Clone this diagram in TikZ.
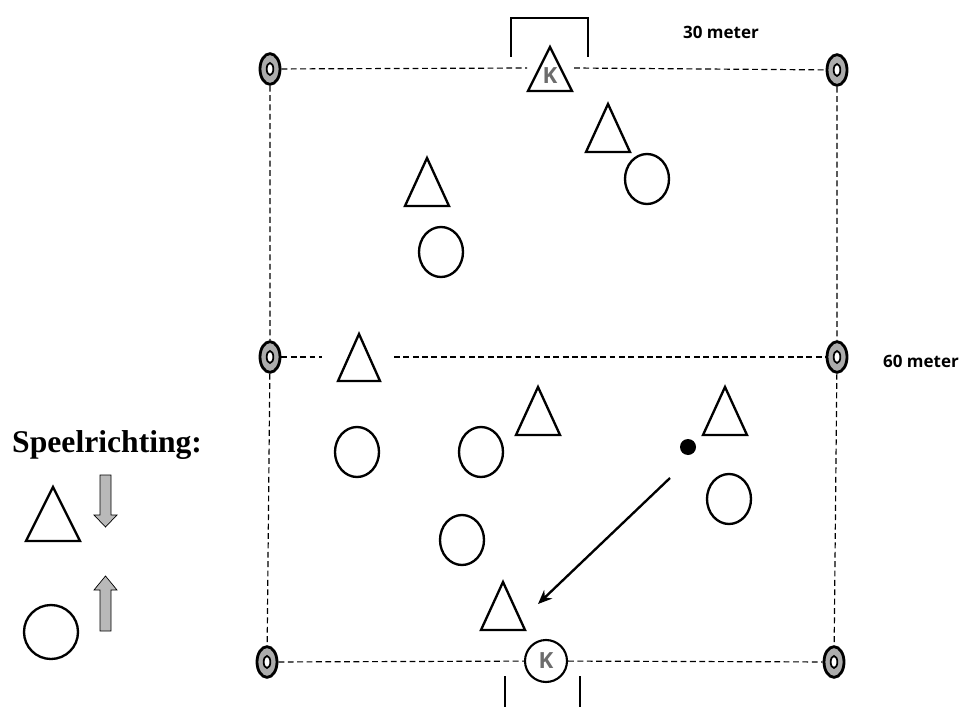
\documentclass[tikz,border=0pt]{standalone}
\usepackage{fontspec}
\usetikzlibrary{shapes.geometric,arrows.meta}
\newfontfamily\headfont{Liberation Serif}
\newfontfamily\labelfont{Open Sans}

\tikzset{
	boundary/.style={dash pattern=on 5pt off 3pt, line width=1pt},
	post/.style={ellipse, draw, line width=2.4pt, fill=gray!65, inner sep=0pt,
		minimum width=0.6cm, minimum height=0.92cm,
		path picture={\draw[fill=white, line width=1.5pt]
			(path picture bounding box.center) ellipse (0.1cm and 0.18cm);}},
	player/.style={line width=2pt, fill=white, line join=miter},
	goal/.style={line width=1.8pt},
	keeper/.style={font=\labelfont\bfseries\fontsize{19}{21}\selectfont, text=gray!85!black},
	meterlabel/.style={font=\labelfont\bfseries\fontsize{14.5}{16}\selectfont},
	direction/.style={fill=gray!55, draw, line width=0.6pt},
}

\begin{document}
\begin{tikzpicture}[x=0.03cm, y=-0.03cm]

% canvas %{{{2

	\useasboundingbox (0,0) rectangle (962,707);

% posts %{{{2

	\node[post] (pTL) at (270,69) {};
	\node[post] (pTR) at (837,70) {};
	\node[post] (pML) at (270,357) {};
	\node[post] (pMR) at (837,357) {};
	\node[post] (pBL) at (267,662) {};
	\node[post] (pBR) at (834,662) {};

% goals %{{{2

	\draw[goal] (511,57) -- (511,18) -- (588,18) -- (588,57);
	\draw[goal] (505,676) -- (505,707);
	\draw[goal] (580,676) -- (580,707);

% keepers %{{{2

	\coordinate (Kt) at (550,47);
	\draw[player] (Kt) -- ++(22,44) -- ++(-44,0) -- cycle;
	\node[keeper] (kTop) at (550,76) {K};

	\node[keeper, circle, draw=black, line width=1.8pt, fill=white,
		minimum size=1.26cm, inner sep=0pt] (kBot) at (546,661) {K};

% field lines %{{{2

	\coordinate (gapA) at (527,68);
	\coordinate (gapB) at (574,68);
	\coordinate (gapC) at (322,357);
	\coordinate (gapD) at (394,357);

	\draw[boundary] (pTL) -- (gapA);
	\draw[boundary] (gapB) -- (pTR);
	\draw[boundary] (pML) -- (gapC);
	\draw[boundary] (gapD) -- (pMR);
	\draw[boundary] (pBL) -- (kBot) -- (pBR);
	\draw[boundary] (pTL) -- (pML) -- (pBL);
	\draw[boundary] (pTR) -- (pMR) -- (pBR);

% triangles %{{{2

	\foreach \x/\y [count=\i] in {608/104, 427/158, 538/387, 725/387, 503/582} {
		\coordinate (T\i) at (\x,\y);
		\draw[player] (T\i) -- ++(22,48) -- ++(-44,0) -- cycle;
	}

	\coordinate (Tm) at (359,334);
	\draw[player] (Tm) -- ++(21,47) -- ++(-42,0) -- cycle;

% circles %{{{2

	\foreach \x/\y [count=\i] in {647/179, 441/252, 357/452, 481/452, 462/540, 729/499} {
		\coordinate (C\i) at (\x,\y);
		\draw[player] (C\i) ellipse (22 and 25);
	}

% ball and shot %{{{2

	\node[circle, fill, minimum size=0.48cm, inner sep=0pt] (ball) at (688,447) {};
	\coordinate (shotStart) at (670,478);
	\coordinate (shotEnd) at (538,604);
	\draw[line width=2pt, -{Stealth[length=12pt, width=10pt]}] (shotStart) -- (shotEnd);

% distances %{{{2

	\node[meterlabel] (d30) at (721,32) {30 meter};
	\node[meterlabel] (d60) at (921,361) {60 meter};

% legend %{{{2

	\node[anchor=base west, inner sep=0pt, font=\headfont\bfseries\fontsize{27}{30}\selectfont]
		(legend) at (12,452) {Speelrichting:};

	\coordinate (Lt) at (53,487);
	\draw[player] (Lt) -- ++(27,54) -- ++(-54,0) -- cycle;
	\coordinate (Lc) at (51,632);
	\draw[player] (Lc) ellipse (27 and 27);

	\draw[direction] (100,475) -- (111,475) -- (111,515) -- (117,515)
		-- (105.5,527) -- (94,515) -- (100,515) -- cycle;
	\draw[direction] (100,631) -- (111,631) -- (111,590) -- (117,590)
		-- (105.5,576) -- (94,590) -- (100,590) -- cycle;

% closing %{{{2

\end{tikzpicture}
\end{document}
